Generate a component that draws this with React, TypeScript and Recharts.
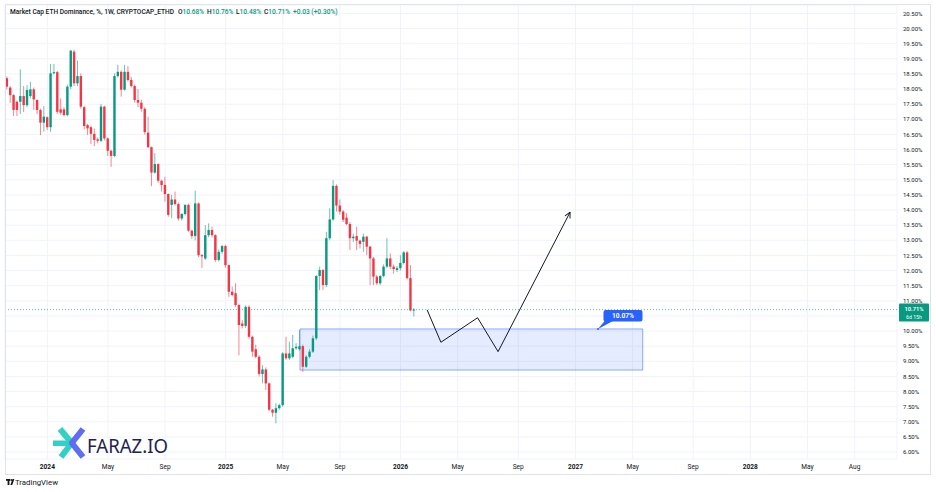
import React from "react";
import {
  Bar,
  CartesianGrid,
  ComposedChart,
  Line,
  ReferenceArea,
  ReferenceDot,
  ReferenceLine,
  XAxis,
  YAxis,
} from "recharts";

const GREEN = "#089981";
const RED = "#f23645";
const BLUE = "#2962ff";
const INK = "#131722";
const FONT = "Roboto, 'Noto Sans', sans-serif";

// weekly bars, week 0 = first bar of 2024; first bar here is Oct 9 2023
const firstWeek = -12;

const opens = [
  18.36, 18.05, 17.8, 17.58, 17.58, 17.77, 17.47, 17.77, 17.99, 17.64,
  17.31, 16.89, 17.07, 16.74, 18.52, 18.56, 17.33, 17.33, 17.14, 18.08,
  19.24, 18.19, 18.43, 17.4, 16.81, 16.74, 16.52, 16.34, 16.29, 17.42,
  16.37, 15.96, 15.79, 18.43, 18.57, 17.98, 18.57, 18.3, 18.1, 17.64,
  17.55, 17.35, 16.56, 16.08, 15.24, 15.52, 14.97, 14.83, 14.53, 14.17,
  14.35, 14.2, 13.72, 13.87, 14.17, 13.32, 13.14, 14.22, 12.51, 12.4,
  13.17, 13.34, 13.17, 12.35, 12.62, 12.81, 12.18, 11.3, 11.25, 10.86,
  10.25, 10.17, 10.8, 9.81, 9.4, 9.15, 8.58, 8.73, 8.27, 7.4,
  7.3, 7.45, 7.55, 9.26, 9.1, 9.15, 9.43, 9.4, 9.5, 8.82,
  9.15, 9.32, 9.76, 11.82, 12.02, 11.52, 13.07, 13.69, 14.8, 14.15,
  13.95, 13.75, 13.54, 13.07, 13.14, 12.99, 12.95, 13.12, 12.79, 12.4,
  11.8, 11.58, 11.82, 12.13, 12.4, 12.13, 12.02, 12.08, 12.25, 12.6,
  11.75, 10.68,
];

const highs = [
  18.42, 18.1, 17.83, 17.62, 18.65, 18.1, 18.13, 18.24, 18.05, 17.66,
  17.35, 17.44, 17.1, 18.83, 18.83, 18.6, 17.69, 17.4, 18.15, 19.3,
  19.3, 18.94, 18.52, 17.45, 16.85, 16.78, 16.7, 16.4, 17.51, 17.45,
  16.4, 16.0, 18.52, 18.8, 18.62, 18.8, 18.76, 18.4, 18.15, 18.0,
  17.65, 17.4, 17.09, 16.1, 15.88, 15.55, 15.0, 15.1, 14.55, 14.5,
  14.61, 14.25, 13.9, 14.2, 14.22, 13.35, 14.64, 14.25, 12.55, 13.5,
  13.56, 13.45, 13.2, 12.7, 12.85, 12.85, 12.2, 11.47, 11.58, 10.9,
  10.36, 10.85, 10.85, 9.85, 9.55, 9.2, 8.87, 8.8, 8.3, 7.42,
  7.61, 7.6, 9.3, 9.81, 9.65, 9.87, 9.6, 10.03, 9.55, 9.2,
  9.4, 9.85, 11.85, 12.13, 12.05, 13.28, 14.06, 14.99, 14.85, 14.35,
  14.0, 13.9, 13.6, 13.22, 13.45, 13.02, 13.22, 13.15, 12.82, 12.45,
  11.85, 11.85, 12.2, 13.07, 12.57, 12.2, 12.15, 12.51, 12.65, 12.65,
  12.18, 10.76,
];

const lows = [
  17.99, 17.54, 17.11, 17.11, 17.18, 17.24, 17.4, 17.7, 17.31, 17.18,
  16.48, 16.59, 16.65, 16.59, 18.5, 17.18, 17.15, 17.1, 17.1, 18.0,
  18.1, 18.1, 17.35, 16.67, 16.48, 16.18, 16.12, 16.21, 16.25, 16.3,
  15.79, 15.43, 15.75, 18.38, 17.75, 17.95, 18.25, 18.05, 17.55, 17.4,
  17.25, 16.5, 16.05, 14.79, 15.2, 14.9, 14.61, 14.28, 13.78, 13.73,
  14.15, 13.65, 13.65, 13.82, 13.28, 13.05, 13.0, 12.45, 12.09, 12.35,
  13.1, 13.1, 12.29, 12.3, 12.55, 12.1, 11.13, 11.15, 10.8, 9.2,
  10.09, 10.1, 9.75, 9.15, 9.1, 8.5, 8.27, 8.05, 7.35, 7.17,
  6.95, 7.4, 7.5, 9.05, 9.05, 9.1, 9.38, 9.35, 8.65, 8.78,
  9.1, 9.28, 9.7, 11.36, 11.36, 11.45, 13.0, 13.65, 13.95, 13.85,
  13.6, 13.5, 12.68, 12.95, 12.68, 12.73, 12.62, 12.51, 11.52, 11.52,
  11.52, 11.52, 11.78, 12.08, 12.05, 11.9, 11.95, 12.0, 12.2, 11.7,
  10.65, 10.48,
];

const closes = [
  18.08, 17.8, 17.31, 17.31, 17.77, 17.47, 17.97, 17.99, 17.66, 17.31,
  16.89, 17.09, 16.74, 18.52, 18.56, 17.25, 17.22, 17.14, 18.08, 19.27,
  18.19, 18.43, 17.42, 16.78, 16.7, 16.52, 16.32, 16.29, 17.42, 16.37,
  15.96, 15.79, 18.43, 18.57, 17.98, 18.57, 18.3, 18.1, 17.64, 17.55,
  17.35, 16.58, 16.08, 15.24, 15.52, 14.97, 14.83, 14.53, 13.84, 14.35,
  14.2, 13.72, 13.87, 14.17, 13.32, 13.14, 14.22, 12.51, 12.47, 13.17,
  13.34, 13.17, 12.35, 12.62, 12.81, 12.18, 11.3, 11.19, 10.86, 10.2,
  10.17, 10.8, 9.81, 9.32, 9.15, 8.58, 8.73, 8.27, 7.4, 7.3,
  7.45, 7.55, 9.26, 9.1, 9.26, 9.43, 9.48, 9.5, 8.82, 9.15,
  9.32, 9.76, 11.82, 12.02, 11.52, 13.07, 13.69, 14.8, 14.15, 13.95,
  13.68, 13.54, 13.07, 13.12, 12.99, 12.88, 13.12, 12.79, 12.4, 11.8,
  11.58, 11.82, 12.13, 12.4, 12.13, 12.05, 12.08, 12.25, 12.6, 11.75,
  10.68, 10.71,
];

const tickWeeks = [0, 18, 35, 53, 70, 87, 105, 122, 140, 157, 174, 192, 209, 226, 240];
const tickLabels = [
  "2024", "May", "Sep", "2025", "May", "Sep", "2026", "May", "Sep",
  "2027", "May", "Sep", "2028", "May", "Aug",
];

const priceTicks = [
  6, 6.5, 7, 7.5, 8, 8.5, 9, 9.5, 10, 10.5, 11, 11.5, 12, 12.5, 13, 13.5,
  14, 14.5, 15, 15.5, 16, 16.5, 17, 17.5, 18, 18.5, 19, 19.5, 20, 20.5,
];
// this label sits under the last-price tag, as on the original
const hiddenPriceTick = 10.5;

const lastPrice = 10.71;

// drawings: support box, projected path, callout
const zoneWeeks = [75.1, 177];
const zonePrices = [8.71, 10.07];
const pathWeeks = [112.9, 117, 127.9, 134, 155.4];
const pathPrices = [10.7, 9.63, 10.44, 9.32, 13.93];
const calloutWeek = 163.7;

const candles = opens.map((o, i) => ({
  w: firstWeek + i,
  o,
  h: highs[i],
  l: lows[i],
  c: closes[i],
}));

const path = pathWeeks.map((w, i) => ({ w, v: pathPrices[i] }));

const Candle = (props: any) => {
  const { x, y, width, height } = props;
  const d = props.payload ?? props;
  if (x == null || y == null) return null;
  const up = d.c >= d.o;
  const color = up ? GREEN : RED;
  const cx = x + width / 2;
  const k = d.h === d.l ? 0 : height / (d.h - d.l);
  const top = y + (d.h - Math.max(d.o, d.c)) * k;
  const bh = Math.max(Math.abs(d.o - d.c) * k, 1);
  return (
    <g>
      <line x1={cx} x2={cx} y1={y} y2={y + height} stroke={color} strokeOpacity={0.6} strokeWidth={1} />
      <rect x={cx - 1.2} y={top} width={2.4} height={bh} fill={color} />
    </g>
  );
};

const TimeTick = (props: any) => {
  const { x, y, payload } = props;
  const idx = tickWeeks.indexOf(payload.value);
  const label = tickLabels[idx] ?? "";
  const year = /^\d+$/.test(label);
  return (
    <text
      x={x}
      y={y}
      dy="0.71em"
      textAnchor="middle"
      fontSize={6.6}
      fontFamily={FONT}
      fontWeight={year ? 700 : 400}
      fill={INK}
    >
      {label}
    </text>
  );
};

const PriceTag = (props: any) => {
  const vb = props.viewBox;
  if (!vb) return null;
  const x = vb.x + vb.width + 2;
  const y = vb.y;
  return (
    <g>
      <rect x={x} y={y - 6} width={30} height={18} rx={1} fill={GREEN} />
      <text x={x + 15} y={y + 1.6} textAnchor="middle" fontSize={5.8} fontWeight={600} fontFamily={FONT} fill="#fff">
        10.71%
      </text>
      <text x={x + 15} y={y + 9.4} textAnchor="middle" fontSize={5.2} fontFamily={FONT} fill="#fff">
        6d 15h
      </text>
    </g>
  );
};

const Callout = (props: any) => {
  const { cx, cy } = props;
  if (cx == null) return null;
  return (
    <g>
      <path d={`M${cx},${cy} L${cx + 7},${cy - 8.5} L${cx + 16},${cy - 8.5} Z`} fill={BLUE} />
      <rect x={cx + 5.5} y={cy - 19} width={39} height={11.5} rx={2} fill={BLUE} />
      <text x={cx + 25} y={cy - 10.8} textAnchor="middle" fontSize={6.6} fontWeight={700} fontFamily={FONT} fill="#fff">
        10.07%
      </text>
      <circle cx={cx} cy={cy} r={1} fill={BLUE} />
    </g>
  );
};

const header = [
  { x: 178, k: "O", v: "10.68%" },
  { x: 207, k: "H", v: "10.76%" },
  { x: 236, k: "L", v: "10.48%" },
  { x: 264, k: "C", v: "10.71%" },
];

export default function App() {
  return (
    <div
      style={{
        position: "absolute",
        left: 0,
        top: 0,
        width: 936,
        height: 492,
        background: "#fff",
        fontFamily: FONT,
        overflow: "hidden",
      }}
    >
      <ComposedChart
        width={936}
        height={492}
        data={candles}
        margin={{ top: 5, right: 0, bottom: 0, left: 5 }}
      >
        <defs>
          <marker
            id="arrowHead"
            viewBox="0 0 10 10"
            refX="9"
            refY="5"
            markerWidth="7"
            markerHeight="7"
            orient="auto"
          >
            <path d="M1,1 L9,5 L1,9" fill="none" stroke={INK} strokeWidth={1.4} />
          </marker>
        </defs>
        <CartesianGrid stroke="#f0f3fa" />
        <XAxis
          type="number"
          dataKey="w"
          domain={[-12.6, 252.6]}
          allowDataOverflow
          ticks={tickWeeks}
          interval={0}
          height={33}
          axisLine={false}
          tickLine={false}
          tickSize={3}
          tickMargin={2}
          tick={<TimeTick />}
        />
        <YAxis
          orientation="right"
          type="number"
          domain={[5.77, 20.78]}
          allowDataOverflow
          ticks={priceTicks}
          interval={0}
          width={39}
          axisLine={false}
          tickLine={false}
          tickSize={4}
          tickMargin={2}
          tick={{ fontSize: 6, fill: INK, fontFamily: FONT }}
          tickFormatter={(v: number) => (v === hiddenPriceTick ? "" : v.toFixed(2) + "%")}
        />
        <Bar
          dataKey={(d: any) => [d.l, d.h]}
          barSize={3}
          shape={<Candle />}
          isAnimationActive={false}
        />
        <ReferenceArea
          x1={zoneWeeks[0]}
          x2={zoneWeeks[1]}
          y1={zonePrices[0]}
          y2={zonePrices[1]}
          fill={BLUE}
          fillOpacity={0.12}
          stroke={BLUE}
          strokeOpacity={0.5}
          strokeWidth={1}
        />
        <ReferenceLine
          y={lastPrice}
          stroke={GREEN}
          strokeOpacity={0.6}
          strokeDasharray="1 2"
          label={<PriceTag />}
        />
        <Line
          data={path}
          dataKey="v"
          stroke={INK}
          strokeWidth={1}
          dot={false}
          activeDot={false}
          markerEnd="url(#arrowHead)"
          isAnimationActive={false}
        />
        <ReferenceDot x={calloutWeek} y={zonePrices[1]} r={1} shape={(p: any) => <Callout {...p} />} />
      </ComposedChart>

      {/* legend line */}
      <div
        style={{
          position: "absolute",
          left: 10,
          top: 8,
          fontSize: 6.6,
          lineHeight: "8px",
          color: INK,
          fontWeight: 500,
          whiteSpace: "nowrap",
        }}
      >
        Market Cap ETH Dominance, %, 1W, CRYPTOCAP_ETHD
      </div>
      {header.map((h) => (
        <div
          key={h.k}
          style={{
            position: "absolute",
            left: h.x,
            top: 8,
            fontSize: 6.6,
            lineHeight: "8px",
            whiteSpace: "nowrap",
            fontWeight: 500,
          }}
        >
          <span style={{ color: INK }}>{h.k}</span>
          <span style={{ color: GREEN }}>{h.v}</span>
        </div>
      ))}
      <div
        style={{
          position: "absolute",
          left: 293,
          top: 8,
          fontSize: 6.6,
          lineHeight: "8px",
          whiteSpace: "nowrap",
          fontWeight: 500,
          color: GREEN,
        }}
      >
        +0.03 (+0.30%)
      </div>

      {/* frame, watermark, footer */}
      <svg width={936} height={492} style={{ position: "absolute", left: 0, top: 0, pointerEvents: "none" }}>
        <rect x={5.5} y={4.5} width={925} height={470} fill="none" stroke="#e0e3eb" />
        <g strokeLinecap="butt">
          <rect x={53} y={440.5} width={17} height={5.5} fill="#33d1c4" />
          <line x1={60} y1={429} x2={72.5} y2={444} stroke="#33d1c4" strokeWidth={6} />
          <line x1={72.5} y1={442} x2={61} y2={457} stroke="#33d1c4" strokeWidth={6} />
          <line x1={83} y1={429} x2={71} y2={444} stroke="#5f6df2" strokeWidth={6} />
          <line x1={71} y1={442} x2={83} y2={457} stroke="#5f6df2" strokeWidth={6} />
        </g>
        <text x={87} y={453} fontSize={20} fontFamily="'Noto Sans', sans-serif" fill="#24214f" textLength={81} lengthAdjust="spacingAndGlyphs">
          FARAZ.IO
        </text>
        <g fill={INK}>
          <rect x={6} y={479} width={4} height={1.8} />
          <rect x={7.6} y={479} width={1.8} height={6} />
          <circle cx={11.2} cy={480} r={0.9} />
          <path d="M12.5,479 L14.4,479 L12.2,485 L10.3,485 Z" />
        </g>
        <text x={15} y={485} fontSize={7.2} fontFamily={FONT} fill={INK} textLength={43} lengthAdjust="spacingAndGlyphs">
          TradingView
        </text>
      </svg>
    </div>
  );
}
